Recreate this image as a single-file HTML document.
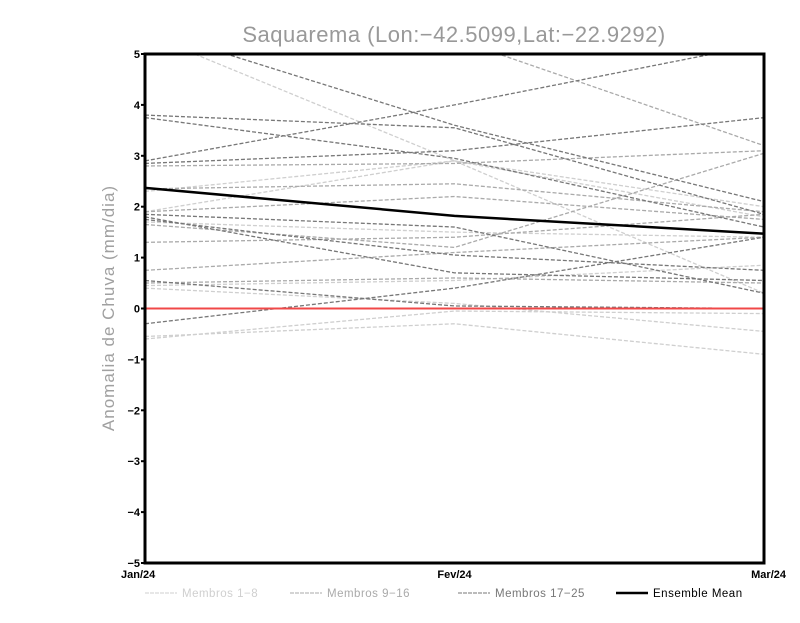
<!DOCTYPE html>
<html><head><meta charset="utf-8"><style>
body{margin:0;background:#fff;}
svg text{font-family:"Liberation Sans",sans-serif;}
</style></head><body>
<svg id="chart" width="800" height="618" xmlns="http://www.w3.org/2000/svg">
<defs><clipPath id="clip"><rect x="145" y="54" width="619" height="509"/></clipPath></defs>
<text x="454" y="42" text-anchor="middle" font-size="22" fill="#999" letter-spacing="0.5">Saquarema (Lon:−42.5099,Lat:−22.9292)</text>
<text transform="translate(114,308) rotate(-90)" text-anchor="middle" font-size="17" fill="#a0a0a0" letter-spacing="1">Anomalia de Chuva (mm/dia)</text>
<g id="series" clip-path="url(#clip)"></g>
<g id="axes"></g>
<g id="legend"></g>
</svg>
<script>
const categories = ["Jan/24","Fev/24","Mar/24"];
const yTicks = [-5,-4,-3,-2,-1,0,1,2,3,4,5];
const members1to8 = [[1.9,2.9,2.0],[1.7,1.5,1.4],[0.45,0.55,0.85],[-0.55,-0.3,-0.9],[0.4,0.1,-0.45],[5.4,2.9,0.3],[2.3,2.9,1.8],[-0.6,-0.05,-0.1]];
const members9to16 = [[2.8,2.85,3.1],[1.65,1.2,3.05],[2.35,2.45,1.9],[1.3,1.4,1.85],[0.75,1.1,1.4],[1.9,2.2,1.75],[5.6,5.3,3.2],[0.5,0.6,0.5]];
const members17to25 = [[5.5,3.6,2.1],[3.8,3.55,1.85],[3.75,2.95,1.6],[2.9,4.0,5.2],[2.85,3.1,3.75],[1.85,1.6,0.3],[1.75,1.05,0.75],[0.55,0.05,0.0],[-0.3,0.4,1.4],[1.8,0.7,0.55]];
const ensembleMean = [2.37,1.82,1.47];
const NS="http://www.w3.org/2000/svg";
const X0=145,X1=764,Y0=563,Y1=54;
const xs=i=>X0+(X1-X0)*i/(categories.length-1);
const ys=v=>Y0-(v+5)/10*(Y0-Y1);
function mk(t,a,p){const e=document.createElementNS(NS,t);for(const k in a)e.setAttribute(k,a[k]);p.appendChild(e);return e;}
const S=document.getElementById('series');
function line(vals,col,w,dash,name){
  const e=mk('polyline',{points:vals.map((v,i)=>xs(i)+','+ys(v)).join(' '),fill:'none',stroke:col,'stroke-width':w,'stroke-dasharray':dash},S);
  
  
}
members1to8.forEach((m,i)=>line(m,'#cfcfcf',1.3,'4,2','member-'+(i+1)));
members9to16.forEach((m,i)=>line(m,'#aaaaaa',1.3,'4,2','member-'+(i+9)));
members17to25.forEach((m,i)=>line(m,'#777777',1.3,'4,2','member-'+(i+17)));
const z=mk('line',{x1:X0,x2:X1,y1:ys(0),y2:ys(0),stroke:'#f04848','stroke-width':2},S);


line(ensembleMean,'#000',2.5,'none','ensemble-mean-line');
const A=document.getElementById('axes');
const fr=mk('rect',{x:X0,y:Y1,width:X1-X0,height:Y0-Y1,fill:'none',stroke:'#000','stroke-width':3},A);


yTicks.forEach(v=>{
  mk('line',{x1:X0-4,x2:X0,y1:ys(v),y2:ys(v),stroke:'#000','stroke-width':2},A);
  const t=mk('text',{x:X0-5,y:ys(v)+4,'text-anchor':'end','font-size':11,'font-weight':'bold'},A);
  t.textContent=v<0?'−'+(-v):String(v);
  
  
});
categories.forEach((c,i)=>{
  const anc=i==0?'start':(i==categories.length-1?'end':'middle');
  const t=mk('text',{x:i==0?X0-24:(i==categories.length-1?X1+22:xs(i)),y:578,'text-anchor':anc,'font-size':11,'font-weight':'bold'},A);
  t.textContent=c;
  
  
});
const L=document.getElementById('legend');
const items=[['Membros 1−8','#cfcfcf',145,'4,1',1],['Membros 9−16','#aaaaaa',290,'4,1',1],['Membros 17−25','#777777',458,'4,1',1],['Ensemble Mean','#000',616,'none',2.5]];
items.forEach(([lab,col,x,d,w])=>{
  const g=mk('g',{},L);
  
  
  mk('line',{x1:x,x2:x+32,y1:593,y2:593,stroke:col,'stroke-width':w,'stroke-dasharray':d},g);
  const t=mk('text',{x:x+37,y:597,'font-size':11.5,fill:col=='#000'?'#000':col,'letter-spacing':0.5},g);
  t.textContent=lab;
});
</script>
</body></html>
